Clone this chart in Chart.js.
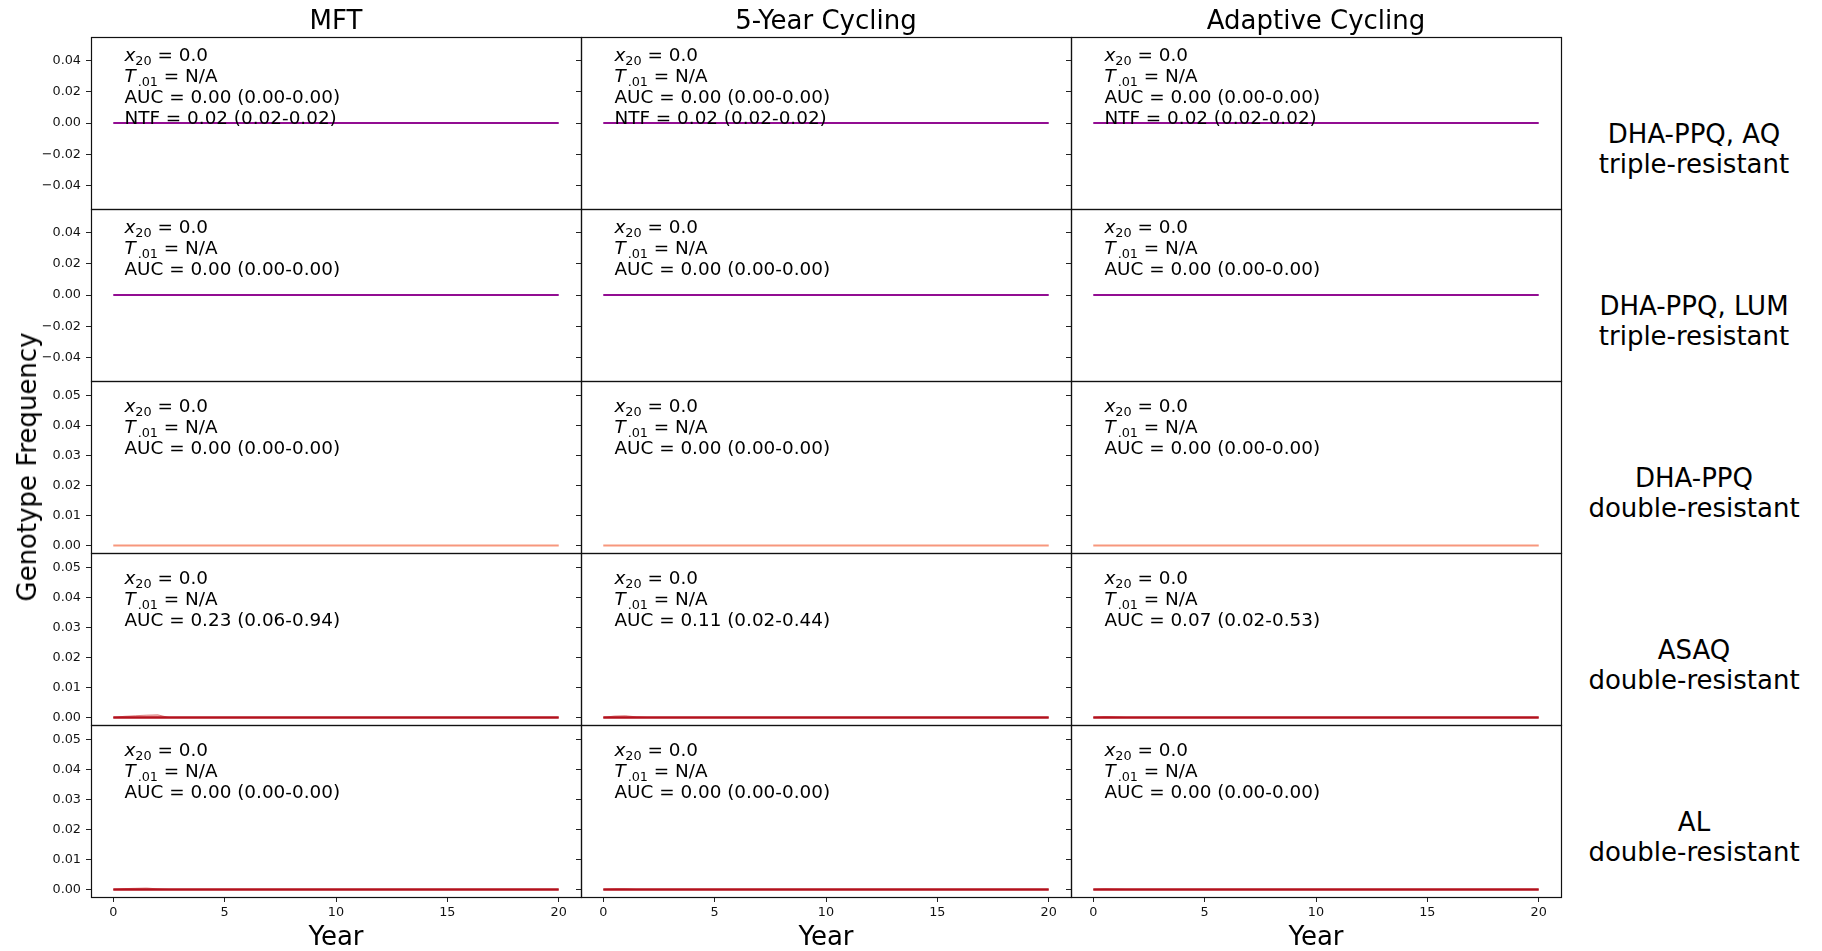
<!DOCTYPE html>
<html><head><meta charset="utf-8">
<script src="https://cdn.jsdelivr.net/npm/chart.js@4.4.1/dist/chart.umd.min.js"></script>
<style>
html,body{margin:0;padding:0;background:#fff;width:1822px;height:951px;overflow:hidden;font-family:'DejaVu Sans',sans-serif;}
.cell{position:absolute;}
.cell canvas{display:block;}
.lbl{position:absolute;font-size:26px;color:#000;white-space:nowrap;transform:translate(-50%,-50%);line-height:1;font-family:'DejaVu Sans',sans-serif;}
</style></head><body>
<div id="root"></div>
<script>
// ---------- data ----------
const columnTitles = ['MFT', '5-Year Cycling', 'Adaptive Cycling'];
const genotypeRows = [
  ['DHA-PPQ, AQ', 'triple-resistant'],
  ['DHA-PPQ, LUM', 'triple-resistant'],
  ['DHA-PPQ', 'double-resistant'],
  ['ASAQ', 'double-resistant'],
  ['AL', 'double-resistant']
];
const years = [0, 0.5, 1, 1.5, 2, 2.5, 5, 10, 15, 20];
const medianFrequency = [0, 0, 0, 0, 0, 0, 0, 0, 0, 0];
// upper percentile band (only visible in ASAQ and AL rows, first years)
const upperASAQ_MFT      = [0, 0.0004, 0.0006, 0.0008, 0.0009, 0, 0, 0, 0, 0];
const upperASAQ_5yr      = [0, 0.0005, 0.0006, 0.0002, 0, 0, 0, 0, 0, 0];
const upperASAQ_Adaptive = [0, 0.0003, 0.0002, 0, 0, 0, 0, 0, 0, 0];
const upperAL_MFT        = [0, 0.0003, 0.0004, 0.0005, 0.0002, 0, 0, 0, 0, 0];
const upperAL_5yr        = [0, 0.0002, 0.0002, 0, 0, 0, 0, 0, 0, 0];
const upperAL_Adaptive   = [0, 0.0002, 0.0001, 0, 0, 0, 0, 0, 0, 0];

const x20Text = [
  ['0.0', '0.0', '0.0'], ['0.0', '0.0', '0.0'], ['0.0', '0.0', '0.0'],
  ['0.0', '0.0', '0.0'], ['0.0', '0.0', '0.0']
];
const t01Text = [
  ['N/A', 'N/A', 'N/A'], ['N/A', 'N/A', 'N/A'], ['N/A', 'N/A', 'N/A'],
  ['N/A', 'N/A', 'N/A'], ['N/A', 'N/A', 'N/A']
];
const aucText = [
  ['0.00 (0.00-0.00)', '0.00 (0.00-0.00)', '0.00 (0.00-0.00)'],
  ['0.00 (0.00-0.00)', '0.00 (0.00-0.00)', '0.00 (0.00-0.00)'],
  ['0.00 (0.00-0.00)', '0.00 (0.00-0.00)', '0.00 (0.00-0.00)'],
  ['0.23 (0.06-0.94)', '0.11 (0.02-0.44)', '0.07 (0.02-0.53)'],
  ['0.00 (0.00-0.00)', '0.00 (0.00-0.00)', '0.00 (0.00-0.00)']
];
const ntfText = [
  ['0.02 (0.02-0.02)', '0.02 (0.02-0.02)', '0.02 (0.02-0.02)'],
  null, null, null, null
];
const yTicksTriple = [-0.04, -0.02, 0, 0.02, 0.04];
const yTicksDouble = [0, 0.01, 0.02, 0.03, 0.04, 0.05];
const xTicks = [0, 5, 10, 15, 20];
const yRangeTriple = [-0.055, 0.055];
const yRangeDouble = [-0.0025, 0.055];
const xRange = [-1, 21];
const statsAnchor = { x: 0.5, y: 0.05 };

// ---------- styling / layout ----------
const rowColors = ['#920d92', '#920d92', '#f7977d', '#b3111c', '#b3111c'];
const bandArrays = [
  [null, null, null], [null, null, null], [null, null, null],
  [upperASAQ_MFT, upperASAQ_5yr, upperASAQ_Adaptive],
  [upperAL_MFT, upperAL_5yr, upperAL_Adaptive]
];
const PANEL_W = 490, PANEL_H = 172, LEFT0 = 91, TOP0 = 37;
const PADL = 70, PADT = 12, PADR = 12, PADB = 40;

Chart.defaults.font.family = "'DejaVu Sans', sans-serif";
Chart.defaults.font.size = 12.8;
Chart.defaults.color = '#000';

const fmtY = v => (v < 0 ? '\u2212' : '') + Math.abs(v).toFixed(2);

function drawStats(chart, lines) {
  const ctx = chart.ctx;
  const x0 = chart.scales.x.getPixelForValue(statsAnchor.x);
  const y0 = chart.scales.y.getPixelForValue(statsAnchor.y);
  ctx.save();
  ctx.fillStyle = '#000';
  ctx.textBaseline = 'alphabetic';
  ctx.textAlign = 'left';
  lines.forEach((segs, i) => {
    let x = x0;
    const base = y0 + 16 + i * 21;
    segs.forEach(seg => {
      if (seg.sub) ctx.font = "12.8px 'DejaVu Sans'";
      else if (seg.it) ctx.font = "oblique 18.4px 'DejaVu Sans'";
      else ctx.font = "18.4px 'DejaVu Sans'";
      x += seg.gap || 0;
      ctx.fillText(seg.t, x, base + (seg.sub ? 4 : 0));
      x += ctx.measureText(seg.t).width;
    });
  });
  ctx.restore();
}

const panelPlugin = {
  id: 'panel',
  afterDatasetsDraw(chart) {
    const { ctx, chartArea: a } = chart;
    ctx.save();
    ctx.strokeStyle = '#111';
    ctx.lineWidth = 1.2;
    ctx.strokeRect(a.left + 0.5, a.top + 0.5, a.right - a.left, a.bottom - a.top);
    ctx.restore();
  },
  afterDraw(chart, args, opts) {
    if (opts && opts.lines) drawStats(chart, opts.lines);
  }
};

const root = document.getElementById('root');

for (let r = 0; r < 5; r++) {
  for (let c = 0; c < 3; c++) {
    const div = document.createElement('div');
    div.className = 'cell';
    const w = PANEL_W + PADL + PADR, h = PANEL_H + PADT + PADB;
    div.style.left = (LEFT0 + c * PANEL_W - PADL) + 'px';
    div.style.top = (TOP0 + r * PANEL_H - PADT) + 'px';
    div.style.width = w + 'px';
    div.style.height = h + 'px';
    const cv = document.createElement('canvas');
    cv.width = w; cv.height = h;
    cv.style.width = w + 'px'; cv.style.height = h + 'px';
    div.appendChild(cv);
    root.appendChild(div);

    const triple = r < 2;
    const yr = triple ? yRangeTriple : yRangeDouble;
    const yt = triple ? yTicksTriple : yTicksDouble;
    const bottom = r === 4;

    const datasets = [{
      data: years.map((x, i) => ({ x, y: medianFrequency[i] })),
      borderColor: rowColors[r],
      borderWidth: r >= 3 ? 2.6 : 2.2,
      pointRadius: 0,
      tension: 0,
      fill: false
    }];
    const band = bandArrays[r][c];
    if (band) {
      datasets.push({
        data: years.map((x, i) => ({ x, y: band[i] })),
        borderColor: 'rgba(200,50,50,0.55)',
        backgroundColor: 'rgba(220,80,80,0.35)',
        borderWidth: 1,
        pointRadius: 0,
        tension: 0,
        fill: 'origin'
      });
    }

    const lines = [
      [{ t: 'x', it: true }, { t: '20', sub: true }, { t: ' = ' + x20Text[r][c] }],
      [{ t: 'T', it: true }, { t: '.01', sub: true, gap: 2 }, { t: ' = ' + t01Text[r][c] }],
      [{ t: 'AUC = ' + aucText[r][c] }]
    ];
    if (ntfText[r]) lines.push([{ t: 'NTF = ' + ntfText[r][c] }]);

    new Chart(cv, {
      type: 'line',
      data: { datasets },
      plugins: [panelPlugin],
      options: {
        responsive: false,
        devicePixelRatio: 1,
        animation: false,
        events: [],
        layout: { padding: { left: 0, top: PADT, right: PADR, bottom: 0 }, autoPadding: false },
        plugins: {
          legend: { display: false },
          tooltip: { enabled: false },
          panel: { lines }
        },
        scales: {
          x: {
            type: 'linear', position: 'bottom',
            min: xRange[0], max: xRange[1],
            afterBuildTicks: s => { s.ticks = xTicks.map(v => ({ value: v })); },
            afterFit: s => { s.height = PADB; s.paddingLeft = 0; s.paddingRight = 0; },
            ticks: { display: bottom, padding: 3, maxRotation: 0, autoSkip: false, color: '#111',
                     callback: v => String(v) },
            grid: { display: bottom, drawOnChartArea: false, drawTicks: true, tickLength: 5, color: '#222', tickWidth: 1 },
            border: { display: false }
          },
          y: {
            type: 'linear', position: 'left',
            min: yr[0], max: yr[1],
            afterBuildTicks: s => { s.ticks = yt.map(v => ({ value: v })); },
            afterFit: s => { s.width = PADL; s.paddingTop = 0; s.paddingBottom = 0; },
            ticks: { display: c === 0, padding: 5, autoSkip: false, color: '#111', callback: v => fmtY(v) },
            grid: { display: true, drawOnChartArea: false, drawTicks: true, tickLength: 5, color: '#222', tickWidth: 1 },
            border: { display: false }
          }
        }
      }
    });
  }
}

// ---------- text labels ----------
function addLabel(text, x, y, extra) {
  const d = document.createElement('div');
  d.className = 'lbl';
  d.textContent = text;
  d.style.left = x + 'px';
  d.style.top = y + 'px';
  if (extra) Object.assign(d.style, extra);
  document.body.appendChild(d);
}
columnTitles.forEach((t, c) => addLabel(t, LEFT0 + c * PANEL_W + PANEL_W / 2, 20));
columnTitles.forEach((t, c) => addLabel('Year', LEFT0 + c * PANEL_W + PANEL_W / 2, 936));
genotypeRows.forEach((pair, r) => {
  addLabel(pair[0], 1694, TOP0 + r * PANEL_H + 97);
  addLabel(pair[1], 1694, TOP0 + r * PANEL_H + 127);
});
addLabel('Genotype Frequency', 27, 467, { transform: 'translate(-50%,-50%) rotate(-90deg)' });
</script></body></html>
